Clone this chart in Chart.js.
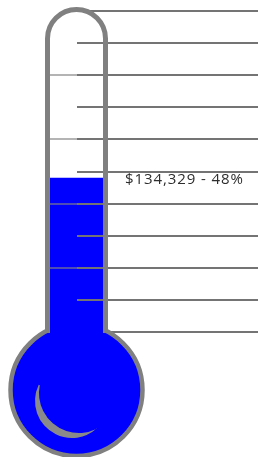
<!DOCTYPE html>
<html>
<head>
<meta charset="utf-8">
<script src="https://cdn.jsdelivr.net/npm/chart.js@4.4.1/dist/chart.umd.min.js"></script>
<style>
  html, body { margin: 0; padding: 0; background: #fff; }
</style>
</head>
<body>
<canvas id="myChart" width="258" height="457"></canvas>
<script>
var categories = ["Raised"];
var raised = [134329];
var goal = 280000; // not printed, estimated from "48%"
var tickPercents = [0, 10, 20, 30, 40, 50, 60, 70, 80, 90, 100];

var pct = raised.map(function (v) { return v / goal * 100; });

var BLUE = "#0000ff";
var GRAY = "#808080";

function money(v) {
  return "$" + v.toLocaleString("en-US");
}

// glass tube, bulb, highlight and the label, placed from the scales
var thermo = {
  id: "thermo",
  afterDraw: function (chart) {
    var ctx = chart.ctx;
    var xs = chart.scales.x;
    var ys = chart.scales.y;
    var cx = xs.getPixelForValue(0);
    var top = ys.getPixelForValue(100);
    var base = ys.getPixelForValue(0);
    var half = 29;
    var arcY = top + 27.5;
    var bulbY = base + 58;
    var bulbR = 66;

    ctx.save();

    // bulb
    ctx.beginPath();
    ctx.arc(cx, bulbY, bulbR, 0, Math.PI * 2);
    ctx.fillStyle = BLUE;
    ctx.fill();
    ctx.lineWidth = 4.5;
    ctx.strokeStyle = GRAY;
    ctx.stroke();

    // tube outline
    ctx.beginPath();
    ctx.moveTo(cx - half, base + 1);
    ctx.lineTo(cx - half, arcY);
    ctx.arc(cx, arcY, half, Math.PI, 0);
    ctx.lineTo(cx + half, base + 1);
    ctx.lineWidth = 5;
    ctx.strokeStyle = GRAY;
    ctx.stroke();

    // open the neck so the blue runs into the bulb
    ctx.fillStyle = BLUE;
    ctx.fillRect(cx - 26.5, base - 14, 53, 22);

    // crescent highlight
    var o = { x: cx - 4.5, y: base + 69, r: 37 };
    var n = { x: cx + 2.5, y: base + 61, r: 40 };
    var t1 = { x: cx - 37.5, y: base + 53 };
    var t2 = { x: cx + 20.5, y: base + 97 };
    ctx.beginPath();
    ctx.arc(o.x, o.y, o.r, Math.atan2(t1.y - o.y, t1.x - o.x), Math.atan2(t2.y - o.y, t2.x - o.x), true);
    ctx.arc(n.x, n.y, n.r, Math.atan2(t2.y - n.y, t2.x - n.x), Math.atan2(t1.y - n.y, t1.x - n.x), false);
    ctx.closePath();
    ctx.fillStyle = "#8a8a8a";
    ctx.fill();

    // label at the fill level
    var yv = ys.getPixelForValue(pct[0]);
    ctx.font = "15px 'Open Sans'";
    ctx.letterSpacing = "0.9px";
    ctx.fillStyle = "#2e2e2e";
    ctx.textAlign = "left";
    ctx.textBaseline = "middle";
    ctx.fillText(money(raised[0]) + " - " + Math.round(pct[0]) + "%", cx + 48.5, yv + 2);

    ctx.restore();
  }
};

var myChart = new Chart("myChart", {
  type: "bar",
  data: {
    labels: categories.concat([""]),
    datasets: [
      {
        data: pct,
        backgroundColor: BLUE,
        borderWidth: 0,
        barThickness: 53,
        clip: false,
      },
    ],
  },
  options: {
    responsive: false,
    animation: false,
    layout: { padding: { left: 50, top: 11, bottom: 125, right: 0 } },
    plugins: { legend: { display: false }, tooltip: { enabled: false } },
    scales: {
      x: { display: false, offset: false },
      y: {
        min: 0,
        max: 100,
        afterBuildTicks: function (scale) {
          scale.ticks = tickPercents.map(function (v) { return { value: v }; });
        },
        ticks: { display: false },
        border: { display: false },
        grid: {
          z: 1,
          color: "#747474",
          lineWidth: 2,
          tickLength: 26.5,
          tickWidth: 2,
          tickColor: function (c) {
            var v = c.tick ? c.tick.value : 0;
            return v > 0 && v < 100 && v % 20 === 0 ? "rgba(130,130,130,0.6)" : "rgba(0,0,0,0)";
          },
        },
      },
    },
  },
  plugins: [thermo],
});
</script>
</body>
</html>
